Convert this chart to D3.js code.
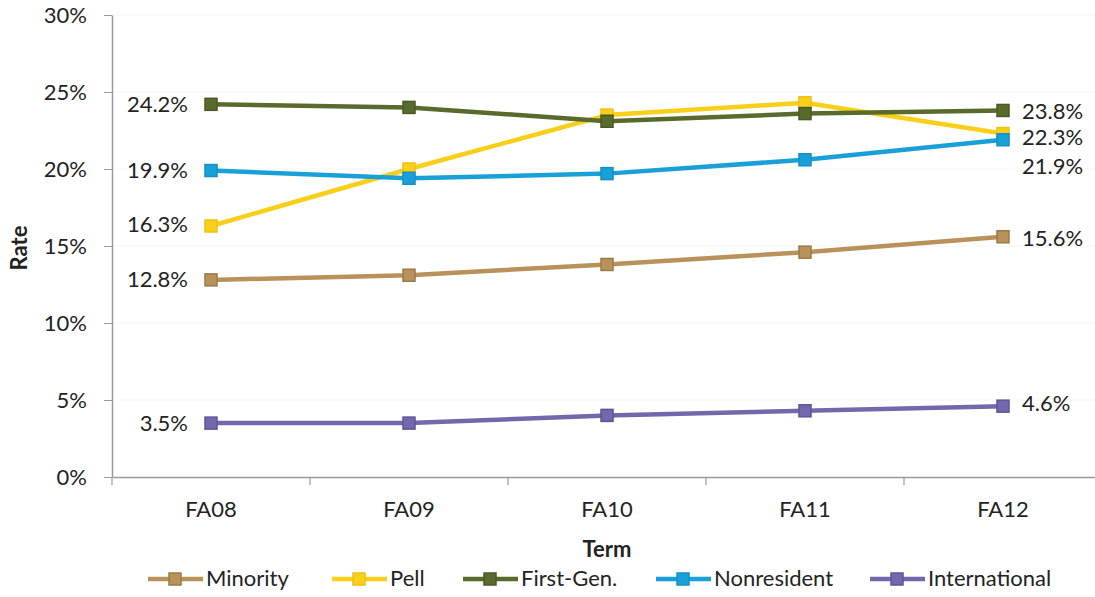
<!DOCTYPE html>
<html><head><meta charset="utf-8">
<script src="https://cdn.jsdelivr.net/npm/d3@7"></script>
<style>
body{margin:0;background:#fff;}
svg text{font-family:Lato,"Open Sans",sans-serif;fill:#232323;}
</style></head><body>
<svg id="c" width="1095" height="597"></svg>
<script>
const terms = ["FA08","FA09","FA10","FA11","FA12"];
const minority = [12.8,13.1,13.8,14.6,15.6];
const pell = [16.3,20.0,23.5,24.3,22.3];
const firstGen = [24.2,24.0,23.1,23.6,23.8];
const nonresident = [19.9,19.4,19.7,20.6,21.9];
const international = [3.5,3.5,4.0,4.3,4.6];
const yTicks = [0,5,10,15,20,25,30];
const seriesNames = ["Minority","Pell","First-Gen.","Nonresident","International"];
const seriesColors = ["#B8925A","#F9CF1A","#596B2C","#1AA0D8","#7468AC"];
const markerStroke = ["#9C7A48","#F0C010","#4A5A22","#1590C8","#5E5598"];

const series = [minority,pell,firstGen,nonresident,international].map((v,i)=>({name:seriesNames[i],values:v,color:seriesColors[i],stroke:markerStroke[i]}));

const FS = 22;
const svg = d3.select("#c");
const x = d3.scaleBand().domain(terms).range([112,1102]);
const y = d3.scaleLinear().domain([0,30]).range([477,15]);

// faint gridlines
svg.append("g").selectAll("line").data(yTicks.slice(1)).join("line")
  .attr("x1",112).attr("x2",1095).attr("y1",d=>y(d)).attr("y2",d=>y(d))
  .attr("stroke","#f5f5f5").attr("stroke-width",1);

// y axis
const ya = svg.append("g").attr("transform","translate(112,0)")
  .call(d3.axisLeft(y).tickValues(yTicks).tickFormat(d=>d+"%").tickSize(8).tickSizeOuter(0));
ya.select(".domain").attr("stroke","#9a9a9a").attr("stroke-width",1.5);
ya.selectAll(".tick line").attr("stroke","#9a9a9a");
ya.selectAll(".tick text").attr("font-size",FS).attr("x",-25).attr("font-family","Lato").attr("fill","#232323");

// x axis
const xa = svg.append("g").attr("transform","translate(0,477)")
  .call(d3.axisBottom(x).tickSize(0).tickSizeOuter(0));
xa.select(".domain").attr("stroke","#9a9a9a").attr("stroke-width",1.5);
xa.selectAll(".tick text").attr("font-size",FS).attr("y",24).attr("font-family","Lato").attr("fill","#232323");
// category boundary ticks
const bounds = terms.map(t=>x(t));
svg.append("g").selectAll("line").data(bounds).join("line")
  .attr("x1",d=>d).attr("x2",d=>d).attr("y1",477).attr("y2",485)
  .attr("stroke","#9a9a9a").attr("stroke-width",1.2);

// axis titles
svg.append("text").attr("transform","translate(21,248) rotate(-90)")
  .attr("text-anchor","middle").attr("dominant-baseline","middle")
  .attr("font-size",FS).attr("font-weight","bold").text("Rate");
svg.append("text").attr("x",x("FA10")+x.bandwidth()/2).attr("y",557)
  .attr("text-anchor","middle").attr("font-size",FS).attr("font-weight","bold").text("Term");

const cx = t=>x(t)+x.bandwidth()/2;
const line = d3.line().x((d,i)=>cx(terms[i])).y(d=>y(d));

const g = svg.append("g");
series.forEach(s=>{
  g.append("path").attr("d",line(s.values)).attr("fill","none")
    .attr("stroke",s.color).attr("stroke-width",4.5).attr("stroke-linejoin","round");
  g.selectAll(null).data(s.values).join("rect")
    .attr("x",(d,i)=>cx(terms[i])-6).attr("y",d=>y(d)-6)
    .attr("width",12).attr("height",12)
    .attr("fill",s.color).attr("stroke",s.stroke).attr("stroke-width",1.5);
});

// data labels
const leftOffsets = [2,0,2,2,2];
const rightOffsets = [4,6,3,29,-1];
series.forEach((s,i)=>{
  svg.append("text").attr("x",188).attr("y",y(s.values[0])+leftOffsets[i])
    .attr("text-anchor","end").attr("dominant-baseline","middle")
    .attr("font-size",FS).text(s.values[0].toFixed(1)+"%");
});
series.forEach((s,i)=>{
  const v = s.values[4];
  svg.append("text").attr("x",1022).attr("y",y(v)+rightOffsets[i])
    .attr("text-anchor","start").attr("dominant-baseline","middle")
    .attr("font-size",FS).text(v.toFixed(1)+"%");
});

// legend
const legX = [148,332,463,656,870];
const leg = svg.append("g");
series.forEach((s,i)=>{
  const lg = leg.append("g").attr("transform",`translate(${legX[i]},579)`);
  lg.append("line").attr("x1",0).attr("x2",55).attr("y1",0).attr("y2",0)
    .attr("stroke",s.color).attr("stroke-width",4.5);
  lg.append("rect").attr("x",21).attr("y",-6).attr("width",12).attr("height",12)
    .attr("fill",s.color).attr("stroke",s.stroke).attr("stroke-width",1.5);
  lg.append("text").attr("x",58).attr("y",1).attr("dominant-baseline","middle")
    .attr("font-size",FS).text(s.name);
});
</script></body></html>
